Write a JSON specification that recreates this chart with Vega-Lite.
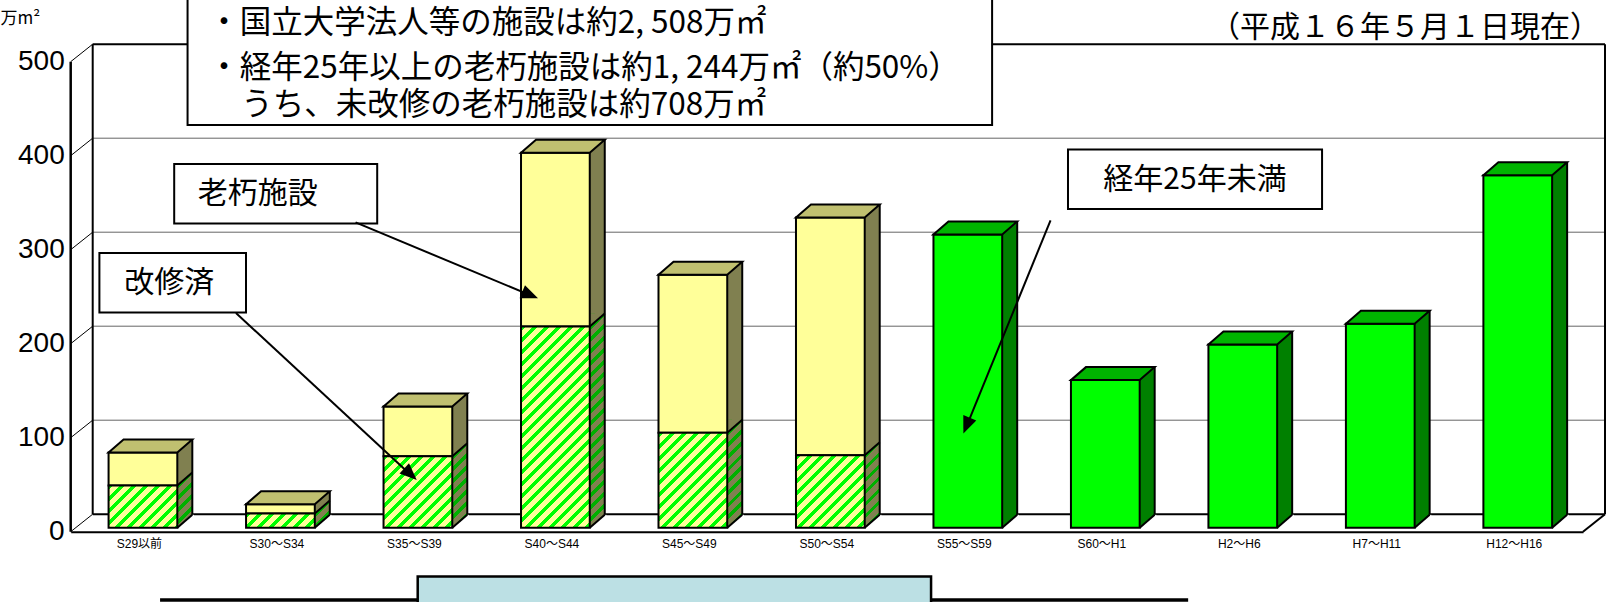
{
  "$schema": "https://vega.github.io/schema/vega-lite/v6.json",
  "width": 1512.3,
  "height": 470,
  "autosize": "none",
  "padding": {"left": 70.7, "top": 61.7, "right": 24, "bottom": 70.3},
  "background": "white",
  "config": {
    "view": {"stroke": null},
    "font": "Noto Sans CJK JP",
    "axisX": {"ticks": false, "grid": false, "domainColor": "black", "domainWidth": 2, "labelFont": "Liberation Sans, Noto Sans CJK JP", "labelFontSize": 12, "labelColor": "black", "labelPadding": 7, "labelAngle": 0, "title": null}
  },
  "datasets": {
    "bldg": [
      {"cat": "S29以前", "kind": "改修済", "value": 45},
      {"cat": "S29以前", "kind": "未改修", "value": 35},
      {"cat": "S30～S34", "kind": "改修済", "value": 15},
      {"cat": "S30～S34", "kind": "未改修", "value": 10},
      {"cat": "S35～S39", "kind": "改修済", "value": 76},
      {"cat": "S35～S39", "kind": "未改修", "value": 53},
      {"cat": "S40～S44", "kind": "改修済", "value": 214},
      {"cat": "S40～S44", "kind": "未改修", "value": 185},
      {"cat": "S45～S49", "kind": "改修済", "value": 101},
      {"cat": "S45～S49", "kind": "未改修", "value": 168},
      {"cat": "S50～S54", "kind": "改修済", "value": 77},
      {"cat": "S50～S54", "kind": "未改修", "value": 253},
      {"cat": "S55～S59", "kind": "経年25年未満", "value": 312},
      {"cat": "S60～H1", "kind": "経年25年未満", "value": 157},
      {"cat": "H2～H6", "kind": "経年25年未満", "value": 195},
      {"cat": "H7～H11", "kind": "経年25年未満", "value": 217},
      {"cat": "H12～H16", "kind": "経年25年未満", "value": 375}
    ],
    "ticks": [{"v": 0}, {"v": 100}, {"v": 200}, {"v": 300}, {"v": 400}, {"v": 500}],
    "one": [{}]
  },
  "resolve": {"scale": {"x": "independent"}},
  "layer": [
    {
      "data": {"name": "ticks"},
      "layer": [
        {
          "transform": [{"filter": "datum.v > 0 && datum.v < 500"}],
          "mark": {"type": "rule", "color": "#666666", "strokeWidth": 1, "xOffset": 22, "x2Offset": 22, "yOffset": -17.5},
          "encoding": {
            "x": {"datum": 0, "type": "quantitative", "scale": {"domain": [0, 11], "nice": false, "zero": false}, "axis": null},
            "x2": {"datum": 11},
            "y": {"field": "v", "type": "quantitative", "scale": {"domain": [0, 500], "nice": false, "zero": false}, "axis": null, "title": null}
          }
        },
        {
          "transform": [{"filter": "datum.v === 0 || datum.v === 500"}],
          "mark": {"type": "rule", "color": "black", "strokeWidth": 2, "xOffset": 22, "x2Offset": 22, "yOffset": -17.5},
          "encoding": {
            "x": {"datum": 0, "type": "quantitative", "axis": null},
            "x2": {"datum": 11},
            "y": {"field": "v", "type": "quantitative", "axis": null, "title": null}
          }
        },
        {
          "mark": {"type": "rule", "color": "black", "strokeWidth": 1, "x2Offset": 22, "y2Offset": -17.5},
          "encoding": {
            "x": {"datum": 0, "type": "quantitative", "axis": null},
            "x2": {"datum": 0},
            "y": {"field": "v", "type": "quantitative", "axis": null, "title": null},
            "y2": {"field": "v"}
          }
        },
        {
          "mark": {"type": "text", "align": "right", "baseline": "middle", "font": "Liberation Sans", "fontSize": 28, "color": "black", "xOffset": -6},
          "encoding": {
            "x": {"datum": 0, "type": "quantitative", "axis": null},
            "y": {"field": "v", "type": "quantitative", "axis": null, "title": null},
            "text": {"field": "v", "type": "quantitative"}
          }
        },
        {
          "data": {"name": "one"},
          "mark": {"type": "rule", "color": "black", "strokeWidth": 2.5},
          "encoding": {
            "x": {"datum": 0, "type": "quantitative", "axis": null},
            "y": {"datum": 0, "type": "quantitative", "axis": null},
            "y2": {"datum": 500}
          }
        },
        {
          "data": {"name": "one"},
          "mark": {"type": "rule", "color": "black", "strokeWidth": 2, "xOffset": 22, "yOffset": -17.5, "y2Offset": -17.5},
          "encoding": {
            "x": {"datum": 0, "type": "quantitative", "axis": null},
            "y": {"datum": 0, "type": "quantitative", "axis": null},
            "y2": {"datum": 500}
          }
        },
        {
          "data": {"name": "one"},
          "mark": {"type": "rule", "color": "black", "strokeWidth": 2, "xOffset": 22, "yOffset": -17.5, "y2Offset": -17.5},
          "encoding": {
            "x": {"datum": 11, "type": "quantitative", "axis": null},
            "y": {"datum": 0, "type": "quantitative", "axis": null},
            "y2": {"datum": 500}
          }
        },
        {
          "data": {"name": "one"},
          "mark": {"type": "rule", "color": "black", "strokeWidth": 2, "x2Offset": 22, "y2Offset": -17.5},
          "encoding": {
            "x": {"datum": 11, "type": "quantitative", "axis": null},
            "x2": {"datum": 11},
            "y": {"datum": 0, "type": "quantitative", "axis": null},
            "y2": {"datum": 0}
          }
        }
      ]
    },
    {
      "data": {"name": "bldg"},
      "transform": [{"stack": "value", "groupby": ["cat"], "sort": [{"field": "kind", "order": "ascending"}], "as": ["v0", "v1"]}],
      "layer": [
        {
          "transform": [{"filter": "datum.kind !== '改修済'"}],
          "mark": {"type": "bar", "width": 15, "xOffset": 45.37, "yOffset": -17, "y2Offset": -4, "strokeWidth": 0},
          "encoding": {
            "x": {"field": "cat", "type": "nominal", "sort": null, "title": null, "scale": {"domain": ["S29以前","S30～S34","S35～S39","S40～S44","S45～S49","S50～S54","S55～S59","S60～H1","H2～H6","H7～H11","H12～H16"], "paddingInner": 0.5, "paddingOuter": 0.25}},
            "y": {"field": "v1", "type": "quantitative", "stack": null, "title": null, "axis": null, "scale": {"domain": [0, 500], "nice": false, "zero": false}},
            "y2": {"field": "v0"},
            "fill": {"condition": {"test": "datum.kind === '未改修'", "value": "#808050"}, "value": "#008000"}
          }
        },
        {
          "transform": [{"filter": "datum.kind === '改修済'"}],
          "mark": {"type": "bar", "width": 15, "xOffset": 45.37, "yOffset": -17, "y2Offset": -4, "strokeWidth": 0},
          "encoding": {
            "x": {"field": "cat", "type": "nominal", "sort": null, "title": null},
            "y": {"field": "v1", "type": "quantitative", "stack": null, "title": null, "axis": null},
            "y2": {"field": "v0"},
            "fill": {
              "condition": [
                {"test": "datum.cat === 'S29以前'", "value": {"gradient": "linear", "x1": 0, "y1": 0, "x2": 1.3159, "y2": 4.851, "stops": [
                  {"offset":0,"color":"#00b000"},{"offset":0.0167,"color":"#00b000"},{"offset":0.0167,"color":"#808050"},{"offset":0.0417,"color":"#808050"},
                  {"offset":0.0417,"color":"#00b000"},{"offset":0.0583,"color":"#00b000"},{"offset":0.0583,"color":"#808050"},{"offset":0.0833,"color":"#808050"},
                  {"offset":0.0833,"color":"#00b000"},{"offset":0.1,"color":"#00b000"},{"offset":0.1,"color":"#808050"},{"offset":0.125,"color":"#808050"},
                  {"offset":0.125,"color":"#00b000"},{"offset":0.1417,"color":"#00b000"},{"offset":0.1417,"color":"#808050"},{"offset":0.1667,"color":"#808050"},
                  {"offset":0.1667,"color":"#00b000"},{"offset":0.1833,"color":"#00b000"},{"offset":0.1833,"color":"#808050"},{"offset":0.2083,"color":"#808050"},
                  {"offset":0.2083,"color":"#00b000"},{"offset":0.225,"color":"#00b000"},{"offset":0.225,"color":"#808050"},{"offset":0.25,"color":"#808050"}
                ]}},
                {"test": "datum.cat === 'S30～S34'", "value": {"gradient": "linear", "x1": 0, "y1": 0, "x2": 4.503, "y2": 8.135, "stops": [
                  {"offset":0,"color":"#00b000"},{"offset":0.0167,"color":"#00b000"},{"offset":0.0167,"color":"#808050"},{"offset":0.0417,"color":"#808050"},
                  {"offset":0.0417,"color":"#00b000"},{"offset":0.0583,"color":"#00b000"},{"offset":0.0583,"color":"#808050"},{"offset":0.0833,"color":"#808050"},
                  {"offset":0.0833,"color":"#00b000"},{"offset":0.1,"color":"#00b000"},{"offset":0.1,"color":"#808050"},{"offset":0.125,"color":"#808050"},
                  {"offset":0.125,"color":"#00b000"},{"offset":0.1417,"color":"#00b000"},{"offset":0.1417,"color":"#808050"},{"offset":0.1667,"color":"#808050"}
                ]}},
                {"test": "datum.cat === 'S35～S39'", "value": {"gradient": "linear", "x1": 0, "y1": 0, "x2": 0.5874, "y2": 3.3064, "stops": [
                  {"offset":0,"color":"#00b000"},{"offset":0.0167,"color":"#00b000"},{"offset":0.0167,"color":"#808050"},{"offset":0.0417,"color":"#808050"},
                  {"offset":0.0417,"color":"#00b000"},{"offset":0.0583,"color":"#00b000"},{"offset":0.0583,"color":"#808050"},{"offset":0.0833,"color":"#808050"},
                  {"offset":0.0833,"color":"#00b000"},{"offset":0.1,"color":"#00b000"},{"offset":0.1,"color":"#808050"},{"offset":0.125,"color":"#808050"},
                  {"offset":0.125,"color":"#00b000"},{"offset":0.1417,"color":"#00b000"},{"offset":0.1417,"color":"#808050"},{"offset":0.1667,"color":"#808050"},
                  {"offset":0.1667,"color":"#00b000"},{"offset":0.1833,"color":"#00b000"},{"offset":0.1833,"color":"#808050"},{"offset":0.2083,"color":"#808050"},
                  {"offset":0.2083,"color":"#00b000"},{"offset":0.225,"color":"#00b000"},{"offset":0.225,"color":"#808050"},{"offset":0.25,"color":"#808050"},
                  {"offset":0.25,"color":"#00b000"},{"offset":0.2667,"color":"#00b000"},{"offset":0.2667,"color":"#808050"},{"offset":0.2917,"color":"#808050"},
                  {"offset":0.2917,"color":"#00b000"},{"offset":0.3083,"color":"#00b000"},{"offset":0.3083,"color":"#808050"},{"offset":0.3333,"color":"#808050"},
                  {"offset":0.3333,"color":"#00b000"},{"offset":0.35,"color":"#00b000"},{"offset":0.35,"color":"#808050"},{"offset":0.375,"color":"#808050"}
                ]}},
                {"test": "datum.cat === 'S40～S44'", "value": {"gradient": "linear", "x1": 0, "y1": 0, "x2": 0.09373, "y2": 1.3382, "stops": [
                  {"offset":0,"color":"#00b000"},{"offset":0.0167,"color":"#00b000"},{"offset":0.0167,"color":"#808050"},{"offset":0.0417,"color":"#808050"},
                  {"offset":0.0417,"color":"#00b000"},{"offset":0.0583,"color":"#00b000"},{"offset":0.0583,"color":"#808050"},{"offset":0.0833,"color":"#808050"},
                  {"offset":0.0833,"color":"#00b000"},{"offset":0.1,"color":"#00b000"},{"offset":0.1,"color":"#808050"},{"offset":0.125,"color":"#808050"},
                  {"offset":0.125,"color":"#00b000"},{"offset":0.1417,"color":"#00b000"},{"offset":0.1417,"color":"#808050"},{"offset":0.1667,"color":"#808050"},
                  {"offset":0.1667,"color":"#00b000"},{"offset":0.1833,"color":"#00b000"},{"offset":0.1833,"color":"#808050"},{"offset":0.2083,"color":"#808050"},
                  {"offset":0.2083,"color":"#00b000"},{"offset":0.225,"color":"#00b000"},{"offset":0.225,"color":"#808050"},{"offset":0.25,"color":"#808050"},
                  {"offset":0.25,"color":"#00b000"},{"offset":0.2667,"color":"#00b000"},{"offset":0.2667,"color":"#808050"},{"offset":0.2917,"color":"#808050"},
                  {"offset":0.2917,"color":"#00b000"},{"offset":0.3083,"color":"#00b000"},{"offset":0.3083,"color":"#808050"},{"offset":0.3333,"color":"#808050"},
                  {"offset":0.3333,"color":"#00b000"},{"offset":0.35,"color":"#00b000"},{"offset":0.35,"color":"#808050"},{"offset":0.375,"color":"#808050"},
                  {"offset":0.375,"color":"#00b000"},{"offset":0.3917,"color":"#00b000"},{"offset":0.3917,"color":"#808050"},{"offset":0.4167,"color":"#808050"},
                  {"offset":0.4167,"color":"#00b000"},{"offset":0.4333,"color":"#00b000"},{"offset":0.4333,"color":"#808050"},{"offset":0.4583,"color":"#808050"},
                  {"offset":0.4583,"color":"#00b000"},{"offset":0.475,"color":"#00b000"},{"offset":0.475,"color":"#808050"},{"offset":0.5,"color":"#808050"},
                  {"offset":0.5,"color":"#00b000"},{"offset":0.5167,"color":"#00b000"},{"offset":0.5167,"color":"#808050"},{"offset":0.5417,"color":"#808050"},
                  {"offset":0.5417,"color":"#00b000"},{"offset":0.5583,"color":"#00b000"},{"offset":0.5583,"color":"#808050"},{"offset":0.5833,"color":"#808050"},
                  {"offset":0.5833,"color":"#00b000"},{"offset":0.6,"color":"#00b000"},{"offset":0.6,"color":"#808050"},{"offset":0.625,"color":"#808050"},
                  {"offset":0.625,"color":"#00b000"},{"offset":0.6417,"color":"#00b000"},{"offset":0.6417,"color":"#808050"},{"offset":0.6667,"color":"#808050"},
                  {"offset":0.6667,"color":"#00b000"},{"offset":0.6833,"color":"#00b000"},{"offset":0.6833,"color":"#808050"},{"offset":0.7083,"color":"#808050"},
                  {"offset":0.7083,"color":"#00b000"},{"offset":0.725,"color":"#00b000"},{"offset":0.725,"color":"#808050"},{"offset":0.75,"color":"#808050"},
                  {"offset":0.75,"color":"#00b000"},{"offset":0.7667,"color":"#00b000"},{"offset":0.7667,"color":"#808050"},{"offset":0.7917,"color":"#808050"},
                  {"offset":0.7917,"color":"#00b000"},{"offset":0.8083,"color":"#00b000"},{"offset":0.8083,"color":"#808050"},{"offset":0.8333,"color":"#808050"}
                ]}},
                {"test": "datum.cat === 'S45～S49'", "value": {"gradient": "linear", "x1": 0, "y1": 0, "x2": 0.36376, "y2": 2.6176, "stops": [
                  {"offset":0,"color":"#00b000"},{"offset":0.0167,"color":"#00b000"},{"offset":0.0167,"color":"#808050"},{"offset":0.0417,"color":"#808050"},
                  {"offset":0.0417,"color":"#00b000"},{"offset":0.0583,"color":"#00b000"},{"offset":0.0583,"color":"#808050"},{"offset":0.0833,"color":"#808050"},
                  {"offset":0.0833,"color":"#00b000"},{"offset":0.1,"color":"#00b000"},{"offset":0.1,"color":"#808050"},{"offset":0.125,"color":"#808050"},
                  {"offset":0.125,"color":"#00b000"},{"offset":0.1417,"color":"#00b000"},{"offset":0.1417,"color":"#808050"},{"offset":0.1667,"color":"#808050"},
                  {"offset":0.1667,"color":"#00b000"},{"offset":0.1833,"color":"#00b000"},{"offset":0.1833,"color":"#808050"},{"offset":0.2083,"color":"#808050"},
                  {"offset":0.2083,"color":"#00b000"},{"offset":0.225,"color":"#00b000"},{"offset":0.225,"color":"#808050"},{"offset":0.25,"color":"#808050"},
                  {"offset":0.25,"color":"#00b000"},{"offset":0.2667,"color":"#00b000"},{"offset":0.2667,"color":"#808050"},{"offset":0.2917,"color":"#808050"},
                  {"offset":0.2917,"color":"#00b000"},{"offset":0.3083,"color":"#00b000"},{"offset":0.3083,"color":"#808050"},{"offset":0.3333,"color":"#808050"},
                  {"offset":0.3333,"color":"#00b000"},{"offset":0.35,"color":"#00b000"},{"offset":0.35,"color":"#808050"},{"offset":0.375,"color":"#808050"},
                  {"offset":0.375,"color":"#00b000"},{"offset":0.3917,"color":"#00b000"},{"offset":0.3917,"color":"#808050"},{"offset":0.4167,"color":"#808050"},
                  {"offset":0.4167,"color":"#00b000"},{"offset":0.4333,"color":"#00b000"},{"offset":0.4333,"color":"#808050"},{"offset":0.4583,"color":"#808050"}
                ]}},
                {"test": "datum.cat === 'S50～S54'", "value": {"gradient": "linear", "x1": 0, "y1": 0, "x2": 0.57487, "y2": 3.2722, "stops": [
                  {"offset":0,"color":"#00b000"},{"offset":0.0167,"color":"#00b000"},{"offset":0.0167,"color":"#808050"},{"offset":0.0417,"color":"#808050"},
                  {"offset":0.0417,"color":"#00b000"},{"offset":0.0583,"color":"#00b000"},{"offset":0.0583,"color":"#808050"},{"offset":0.0833,"color":"#808050"},
                  {"offset":0.0833,"color":"#00b000"},{"offset":0.1,"color":"#00b000"},{"offset":0.1,"color":"#808050"},{"offset":0.125,"color":"#808050"},
                  {"offset":0.125,"color":"#00b000"},{"offset":0.1417,"color":"#00b000"},{"offset":0.1417,"color":"#808050"},{"offset":0.1667,"color":"#808050"},
                  {"offset":0.1667,"color":"#00b000"},{"offset":0.1833,"color":"#00b000"},{"offset":0.1833,"color":"#808050"},{"offset":0.2083,"color":"#808050"},
                  {"offset":0.2083,"color":"#00b000"},{"offset":0.225,"color":"#00b000"},{"offset":0.225,"color":"#808050"},{"offset":0.25,"color":"#808050"},
                  {"offset":0.25,"color":"#00b000"},{"offset":0.2667,"color":"#00b000"},{"offset":0.2667,"color":"#808050"},{"offset":0.2917,"color":"#808050"},
                  {"offset":0.2917,"color":"#00b000"},{"offset":0.3083,"color":"#00b000"},{"offset":0.3083,"color":"#808050"},{"offset":0.3333,"color":"#808050"},
                  {"offset":0.3333,"color":"#00b000"},{"offset":0.35,"color":"#00b000"},{"offset":0.35,"color":"#808050"},{"offset":0.375,"color":"#808050"}
                ]}}
              ],
              "value": "#808050"
            }
          }
        },
        {
          "transform": [{"filter": "datum.kind === '改修済'"}],
          "mark": {"type": "point", "shape": "M34.37,0.3 L34.37,-13.3 L49.8,-13.3 Z", "size": 4, "filled": true, "fill": "#808050", "strokeWidth": 0, "opacity": 1, "xOffset": 3.5, "yOffset": -4},
          "encoding": {
            "x": {"field": "cat", "type": "nominal", "sort": null, "title": null},
            "y": {"field": "v1", "type": "quantitative", "stack": null, "title": null, "axis": null}
          }
        },
        {
          "transform": [{"filter": "datum.v0 === 0"}],
          "mark": {"type": "point", "shape": "M34.37,0 L49.37,-13 L51,-13 L51,1.5 L34.37,1.5 Z", "size": 4, "filled": true, "fill": "white", "strokeWidth": 0, "opacity": 1, "xOffset": 3.5, "yOffset": -4},
          "encoding": {
            "x": {"field": "cat", "type": "nominal", "sort": null, "title": null},
            "y": {"field": "v0", "type": "quantitative", "stack": null, "title": null, "axis": null}
          }
        },
        {
          "transform": [{"filter": "datum.kind !== '改修済'"}],
          "mark": {"type": "bar", "xOffset": 3.5, "yOffset": -4, "y2Offset": -4, "stroke": "black", "strokeWidth": 2},
          "encoding": {
            "x": {"field": "cat", "type": "nominal", "sort": null, "title": null},
            "y": {"field": "v1", "type": "quantitative", "stack": null, "title": null, "axis": null},
            "y2": {"field": "v0"},
            "fill": {"condition": {"test": "datum.kind === '未改修'", "value": "#ffff99"}, "value": "#00ff00"}
          }
        },
        {
          "transform": [{"filter": "datum.kind === '改修済'"}],
          "mark": {"type": "bar", "xOffset": 3.5, "yOffset": -4, "y2Offset": -4, "stroke": "black", "strokeWidth": 2},
          "encoding": {
            "x": {"field": "cat", "type": "nominal", "sort": null, "title": null},
            "y": {"field": "v1", "type": "quantitative", "stack": null, "title": null, "axis": null},
            "y2": {"field": "v0"},
            "fill": {
              "condition": [
                {"test": "datum.cat === 'S29以前'", "value": {"gradient": "linear", "x1": 0, "y1": 0, "x2": 3.0387, "y2": 1.8697, "stops": [
                  {"offset":0,"color":"#0f0"},{"offset":0.0167,"color":"#0f0"},{"offset":0.0167,"color":"#ff9"},{"offset":0.0417,"color":"#ff9"},
                  {"offset":0.0417,"color":"#0f0"},{"offset":0.0583,"color":"#0f0"},{"offset":0.0583,"color":"#ff9"},{"offset":0.0833,"color":"#ff9"},
                  {"offset":0.0833,"color":"#0f0"},{"offset":0.1,"color":"#0f0"},{"offset":0.1,"color":"#ff9"},{"offset":0.125,"color":"#ff9"},
                  {"offset":0.125,"color":"#0f0"},{"offset":0.1417,"color":"#0f0"},{"offset":0.1417,"color":"#ff9"},{"offset":0.1667,"color":"#ff9"},
                  {"offset":0.1667,"color":"#0f0"},{"offset":0.1833,"color":"#0f0"},{"offset":0.1833,"color":"#ff9"},{"offset":0.2083,"color":"#ff9"},
                  {"offset":0.2083,"color":"#0f0"},{"offset":0.225,"color":"#0f0"},{"offset":0.225,"color":"#ff9"},{"offset":0.25,"color":"#ff9"},
                  {"offset":0.25,"color":"#0f0"},{"offset":0.2667,"color":"#0f0"},{"offset":0.2667,"color":"#ff9"},{"offset":0.2917,"color":"#ff9"},
                  {"offset":0.2917,"color":"#0f0"},{"offset":0.3083,"color":"#0f0"},{"offset":0.3083,"color":"#ff9"},{"offset":0.3333,"color":"#ff9"},
                  {"offset":0.3333,"color":"#0f0"},{"offset":0.35,"color":"#0f0"},{"offset":0.35,"color":"#ff9"},{"offset":0.375,"color":"#ff9"},
                  {"offset":0.375,"color":"#0f0"},{"offset":0.3917,"color":"#0f0"},{"offset":0.3917,"color":"#ff9"},{"offset":0.4167,"color":"#ff9"}
                ]}},
                {"test": "datum.cat === 'S30～S34'", "value": {"gradient": "linear", "x1": 0, "y1": 0, "x2": 4.02, "y2": 0.8245, "stops": [
                  {"offset":0,"color":"#0f0"},{"offset":0.0167,"color":"#0f0"},{"offset":0.0167,"color":"#ff9"},{"offset":0.0417,"color":"#ff9"},
                  {"offset":0.0417,"color":"#0f0"},{"offset":0.0583,"color":"#0f0"},{"offset":0.0583,"color":"#ff9"},{"offset":0.0833,"color":"#ff9"},
                  {"offset":0.0833,"color":"#0f0"},{"offset":0.1,"color":"#0f0"},{"offset":0.1,"color":"#ff9"},{"offset":0.125,"color":"#ff9"},
                  {"offset":0.125,"color":"#0f0"},{"offset":0.1417,"color":"#0f0"},{"offset":0.1417,"color":"#ff9"},{"offset":0.1667,"color":"#ff9"},
                  {"offset":0.1667,"color":"#0f0"},{"offset":0.1833,"color":"#0f0"},{"offset":0.1833,"color":"#ff9"},{"offset":0.2083,"color":"#ff9"},
                  {"offset":0.2083,"color":"#0f0"},{"offset":0.225,"color":"#0f0"},{"offset":0.225,"color":"#ff9"},{"offset":0.25,"color":"#ff9"},
                  {"offset":0.25,"color":"#0f0"},{"offset":0.2667,"color":"#0f0"},{"offset":0.2667,"color":"#ff9"},{"offset":0.2917,"color":"#ff9"}
                ]}},
                {"test": "datum.cat === 'S35～S39'", "value": {"gradient": "linear", "x1": 0, "y1": 0, "x2": 2.0142, "y2": 2.093, "stops": [
                  {"offset":0,"color":"#0f0"},{"offset":0.0167,"color":"#0f0"},{"offset":0.0167,"color":"#ff9"},{"offset":0.0417,"color":"#ff9"},
                  {"offset":0.0417,"color":"#0f0"},{"offset":0.0583,"color":"#0f0"},{"offset":0.0583,"color":"#ff9"},{"offset":0.0833,"color":"#ff9"},
                  {"offset":0.0833,"color":"#0f0"},{"offset":0.1,"color":"#0f0"},{"offset":0.1,"color":"#ff9"},{"offset":0.125,"color":"#ff9"},
                  {"offset":0.125,"color":"#0f0"},{"offset":0.1417,"color":"#0f0"},{"offset":0.1417,"color":"#ff9"},{"offset":0.1667,"color":"#ff9"},
                  {"offset":0.1667,"color":"#0f0"},{"offset":0.1833,"color":"#0f0"},{"offset":0.1833,"color":"#ff9"},{"offset":0.2083,"color":"#ff9"},
                  {"offset":0.2083,"color":"#0f0"},{"offset":0.225,"color":"#0f0"},{"offset":0.225,"color":"#ff9"},{"offset":0.25,"color":"#ff9"},
                  {"offset":0.25,"color":"#0f0"},{"offset":0.2667,"color":"#0f0"},{"offset":0.2667,"color":"#ff9"},{"offset":0.2917,"color":"#ff9"},
                  {"offset":0.2917,"color":"#0f0"},{"offset":0.3083,"color":"#0f0"},{"offset":0.3083,"color":"#ff9"},{"offset":0.3333,"color":"#ff9"},
                  {"offset":0.3333,"color":"#0f0"},{"offset":0.35,"color":"#0f0"},{"offset":0.35,"color":"#ff9"},{"offset":0.375,"color":"#ff9"},
                  {"offset":0.375,"color":"#0f0"},{"offset":0.3917,"color":"#0f0"},{"offset":0.3917,"color":"#ff9"},{"offset":0.4167,"color":"#ff9"},
                  {"offset":0.4167,"color":"#0f0"},{"offset":0.4333,"color":"#0f0"},{"offset":0.4333,"color":"#ff9"},{"offset":0.4583,"color":"#ff9"},
                  {"offset":0.4583,"color":"#0f0"},{"offset":0.475,"color":"#0f0"},{"offset":0.475,"color":"#ff9"},{"offset":0.5,"color":"#ff9"}
                ]}},
                {"test": "datum.cat === 'S40～S44'", "value": {"gradient": "linear", "x1": 0, "y1": 0, "x2": 0.43813, "y2": 1.282, "stops": [
                  {"offset":0,"color":"#0f0"},{"offset":0.0167,"color":"#0f0"},{"offset":0.0167,"color":"#ff9"},{"offset":0.0417,"color":"#ff9"},
                  {"offset":0.0417,"color":"#0f0"},{"offset":0.0583,"color":"#0f0"},{"offset":0.0583,"color":"#ff9"},{"offset":0.0833,"color":"#ff9"},
                  {"offset":0.0833,"color":"#0f0"},{"offset":0.1,"color":"#0f0"},{"offset":0.1,"color":"#ff9"},{"offset":0.125,"color":"#ff9"},
                  {"offset":0.125,"color":"#0f0"},{"offset":0.1417,"color":"#0f0"},{"offset":0.1417,"color":"#ff9"},{"offset":0.1667,"color":"#ff9"},
                  {"offset":0.1667,"color":"#0f0"},{"offset":0.1833,"color":"#0f0"},{"offset":0.1833,"color":"#ff9"},{"offset":0.2083,"color":"#ff9"},
                  {"offset":0.2083,"color":"#0f0"},{"offset":0.225,"color":"#0f0"},{"offset":0.225,"color":"#ff9"},{"offset":0.25,"color":"#ff9"},
                  {"offset":0.25,"color":"#0f0"},{"offset":0.2667,"color":"#0f0"},{"offset":0.2667,"color":"#ff9"},{"offset":0.2917,"color":"#ff9"},
                  {"offset":0.2917,"color":"#0f0"},{"offset":0.3083,"color":"#0f0"},{"offset":0.3083,"color":"#ff9"},{"offset":0.3333,"color":"#ff9"},
                  {"offset":0.3333,"color":"#0f0"},{"offset":0.35,"color":"#0f0"},{"offset":0.35,"color":"#ff9"},{"offset":0.375,"color":"#ff9"},
                  {"offset":0.375,"color":"#0f0"},{"offset":0.3917,"color":"#0f0"},{"offset":0.3917,"color":"#ff9"},{"offset":0.4167,"color":"#ff9"},
                  {"offset":0.4167,"color":"#0f0"},{"offset":0.4333,"color":"#0f0"},{"offset":0.4333,"color":"#ff9"},{"offset":0.4583,"color":"#ff9"},
                  {"offset":0.4583,"color":"#0f0"},{"offset":0.475,"color":"#0f0"},{"offset":0.475,"color":"#ff9"},{"offset":0.5,"color":"#ff9"},
                  {"offset":0.5,"color":"#0f0"},{"offset":0.5167,"color":"#0f0"},{"offset":0.5167,"color":"#ff9"},{"offset":0.5417,"color":"#ff9"},
                  {"offset":0.5417,"color":"#0f0"},{"offset":0.5583,"color":"#0f0"},{"offset":0.5583,"color":"#ff9"},{"offset":0.5833,"color":"#ff9"},
                  {"offset":0.5833,"color":"#0f0"},{"offset":0.6,"color":"#0f0"},{"offset":0.6,"color":"#ff9"},{"offset":0.625,"color":"#ff9"},
                  {"offset":0.625,"color":"#0f0"},{"offset":0.6417,"color":"#0f0"},{"offset":0.6417,"color":"#ff9"},{"offset":0.6667,"color":"#ff9"},
                  {"offset":0.6667,"color":"#0f0"},{"offset":0.6833,"color":"#0f0"},{"offset":0.6833,"color":"#ff9"},{"offset":0.7083,"color":"#ff9"},
                  {"offset":0.7083,"color":"#0f0"},{"offset":0.725,"color":"#0f0"},{"offset":0.725,"color":"#ff9"},{"offset":0.75,"color":"#ff9"},
                  {"offset":0.75,"color":"#0f0"},{"offset":0.7667,"color":"#0f0"},{"offset":0.7667,"color":"#ff9"},{"offset":0.7917,"color":"#ff9"},
                  {"offset":0.7917,"color":"#0f0"},{"offset":0.8083,"color":"#0f0"},{"offset":0.8083,"color":"#ff9"},{"offset":0.8333,"color":"#ff9"},
                  {"offset":0.8333,"color":"#0f0"},{"offset":0.85,"color":"#0f0"},{"offset":0.85,"color":"#ff9"},{"offset":0.875,"color":"#ff9"},
                  {"offset":0.875,"color":"#0f0"},{"offset":0.8917,"color":"#0f0"},{"offset":0.8917,"color":"#ff9"},{"offset":0.9167,"color":"#ff9"},
                  {"offset":0.9167,"color":"#0f0"},{"offset":0.9333,"color":"#0f0"},{"offset":0.9333,"color":"#ff9"},{"offset":0.9583,"color":"#ff9"}
                ]}},
                {"test": "datum.cat === 'S45～S49'", "value": {"gradient": "linear", "x1": 0, "y1": 0, "x2": 1.441, "y2": 1.99, "stops": [
                  {"offset":0,"color":"#0f0"},{"offset":0.0167,"color":"#0f0"},{"offset":0.0167,"color":"#ff9"},{"offset":0.0417,"color":"#ff9"},
                  {"offset":0.0417,"color":"#0f0"},{"offset":0.0583,"color":"#0f0"},{"offset":0.0583,"color":"#ff9"},{"offset":0.0833,"color":"#ff9"},
                  {"offset":0.0833,"color":"#0f0"},{"offset":0.1,"color":"#0f0"},{"offset":0.1,"color":"#ff9"},{"offset":0.125,"color":"#ff9"},
                  {"offset":0.125,"color":"#0f0"},{"offset":0.1417,"color":"#0f0"},{"offset":0.1417,"color":"#ff9"},{"offset":0.1667,"color":"#ff9"},
                  {"offset":0.1667,"color":"#0f0"},{"offset":0.1833,"color":"#0f0"},{"offset":0.1833,"color":"#ff9"},{"offset":0.2083,"color":"#ff9"},
                  {"offset":0.2083,"color":"#0f0"},{"offset":0.225,"color":"#0f0"},{"offset":0.225,"color":"#ff9"},{"offset":0.25,"color":"#ff9"},
                  {"offset":0.25,"color":"#0f0"},{"offset":0.2667,"color":"#0f0"},{"offset":0.2667,"color":"#ff9"},{"offset":0.2917,"color":"#ff9"},
                  {"offset":0.2917,"color":"#0f0"},{"offset":0.3083,"color":"#0f0"},{"offset":0.3083,"color":"#ff9"},{"offset":0.3333,"color":"#ff9"},
                  {"offset":0.3333,"color":"#0f0"},{"offset":0.35,"color":"#0f0"},{"offset":0.35,"color":"#ff9"},{"offset":0.375,"color":"#ff9"},
                  {"offset":0.375,"color":"#0f0"},{"offset":0.3917,"color":"#0f0"},{"offset":0.3917,"color":"#ff9"},{"offset":0.4167,"color":"#ff9"},
                  {"offset":0.4167,"color":"#0f0"},{"offset":0.4333,"color":"#0f0"},{"offset":0.4333,"color":"#ff9"},{"offset":0.4583,"color":"#ff9"},
                  {"offset":0.4583,"color":"#0f0"},{"offset":0.475,"color":"#0f0"},{"offset":0.475,"color":"#ff9"},{"offset":0.5,"color":"#ff9"},
                  {"offset":0.5,"color":"#0f0"},{"offset":0.5167,"color":"#0f0"},{"offset":0.5167,"color":"#ff9"},{"offset":0.5417,"color":"#ff9"},
                  {"offset":0.5417,"color":"#0f0"},{"offset":0.5583,"color":"#0f0"},{"offset":0.5583,"color":"#ff9"},{"offset":0.5833,"color":"#ff9"}
                ]}},
                {"test": "datum.cat === 'S50～S54'", "value": {"gradient": "linear", "x1": 0, "y1": 0, "x2": 1.9869, "y2": 2.0918, "stops": [
                  {"offset":0,"color":"#0f0"},{"offset":0.0167,"color":"#0f0"},{"offset":0.0167,"color":"#ff9"},{"offset":0.0417,"color":"#ff9"},
                  {"offset":0.0417,"color":"#0f0"},{"offset":0.0583,"color":"#0f0"},{"offset":0.0583,"color":"#ff9"},{"offset":0.0833,"color":"#ff9"},
                  {"offset":0.0833,"color":"#0f0"},{"offset":0.1,"color":"#0f0"},{"offset":0.1,"color":"#ff9"},{"offset":0.125,"color":"#ff9"},
                  {"offset":0.125,"color":"#0f0"},{"offset":0.1417,"color":"#0f0"},{"offset":0.1417,"color":"#ff9"},{"offset":0.1667,"color":"#ff9"},
                  {"offset":0.1667,"color":"#0f0"},{"offset":0.1833,"color":"#0f0"},{"offset":0.1833,"color":"#ff9"},{"offset":0.2083,"color":"#ff9"},
                  {"offset":0.2083,"color":"#0f0"},{"offset":0.225,"color":"#0f0"},{"offset":0.225,"color":"#ff9"},{"offset":0.25,"color":"#ff9"},
                  {"offset":0.25,"color":"#0f0"},{"offset":0.2667,"color":"#0f0"},{"offset":0.2667,"color":"#ff9"},{"offset":0.2917,"color":"#ff9"},
                  {"offset":0.2917,"color":"#0f0"},{"offset":0.3083,"color":"#0f0"},{"offset":0.3083,"color":"#ff9"},{"offset":0.3333,"color":"#ff9"},
                  {"offset":0.3333,"color":"#0f0"},{"offset":0.35,"color":"#0f0"},{"offset":0.35,"color":"#ff9"},{"offset":0.375,"color":"#ff9"},
                  {"offset":0.375,"color":"#0f0"},{"offset":0.3917,"color":"#0f0"},{"offset":0.3917,"color":"#ff9"},{"offset":0.4167,"color":"#ff9"},
                  {"offset":0.4167,"color":"#0f0"},{"offset":0.4333,"color":"#0f0"},{"offset":0.4333,"color":"#ff9"},{"offset":0.4583,"color":"#ff9"},
                  {"offset":0.4583,"color":"#0f0"},{"offset":0.475,"color":"#0f0"},{"offset":0.475,"color":"#ff9"},{"offset":0.5,"color":"#ff9"}
                ]}}
              ],
              "value": "#ffff99"
            }
          }
        },
        {
          "transform": [{"filter": "datum.kind !== '改修済'"}],
          "mark": {"type": "point", "shape": "M-34.37,0 L34.37,0 L49.37,-13 L-19.37,-13 Z", "size": 4, "filled": true, "stroke": "black", "strokeWidth": 2, "opacity": 1, "xOffset": 3.5, "yOffset": -4},
          "encoding": {
            "x": {"field": "cat", "type": "nominal", "sort": null, "title": null},
            "y": {"field": "v1", "type": "quantitative", "stack": null, "title": null, "axis": null},
            "fill": {"condition": {"test": "datum.kind === '未改修'", "value": "#c0c070"}, "value": "#00b400"}
          }
        },
        {
          "transform": [{"filter": "datum.kind !== '改修済'"}],
          "mark": {"type": "rule", "color": "black", "strokeWidth": 2, "xOffset": 52.87, "yOffset": -17, "y2Offset": -17},
          "encoding": {
            "x": {"field": "cat", "type": "nominal", "sort": null, "title": null},
            "y": {"field": "v1", "type": "quantitative", "stack": null, "title": null, "axis": null},
            "y2": {"datum": 0}
          }
        },
        {
          "mark": {"type": "point", "shape": "M34.37,0 L49.37,-13", "size": 4, "filled": false, "stroke": "black", "strokeWidth": 2, "opacity": 1, "xOffset": 3.5, "yOffset": -4},
          "encoding": {
            "x": {"field": "cat", "type": "nominal", "sort": null, "title": null},
            "y": {"field": "v0", "type": "quantitative", "stack": null, "title": null, "axis": null}
          }
        }
      ]
    },
    {
      "data": {"name": "one"},
      "layer": [
        {
          "mark": {"type": "text", "align": "left", "baseline": "middle", "fontSize": 17, "font": "Noto Sans CJK JP", "color": "black"},
          "encoding": {
            "x": {"datum": -0.51, "type": "quantitative", "scale": {"domain": [0, 11], "nice": false, "zero": false}, "axis": null},
            "y": {"datum": 545.4, "type": "quantitative", "axis": null},
            "text": {"value": "万m²"}
          }
        },
        {
          "mark": {"type": "rect", "fill": "white", "stroke": "black", "strokeWidth": 2},
          "encoding": {
            "x": {"datum": 0.85, "type": "quantitative", "axis": null},
            "x2": {"datum": 6.702},
            "y": {"datum": 432.7, "type": "quantitative", "axis": null},
            "y2": {"datum": 575}
          }
        },
        {
          "mark": {"type": "text", "align": "left", "baseline": "middle", "fontSize": 31.5, "font": "Noto Sans CJK JP", "color": "black"},
          "encoding": {
            "x": {"datum": 1.0, "type": "quantitative", "axis": null},
            "y": {"datum": 540, "type": "quantitative", "axis": null},
            "text": {"value": "・国立大学法人等の施設は約2, 508万㎡"}
          }
        },
        {
          "mark": {"type": "text", "align": "left", "baseline": "middle", "fontSize": 31.5, "font": "Noto Sans CJK JP", "color": "black"},
          "encoding": {
            "x": {"datum": 1.0, "type": "quantitative", "axis": null},
            "y": {"datum": 492.6, "type": "quantitative", "axis": null},
            "text": {"value": "・経年25年以上の老朽施設は約1, 244万㎡（約50%）"}
          }
        },
        {
          "mark": {"type": "text", "align": "left", "baseline": "middle", "fontSize": 31.5, "font": "Noto Sans CJK JP", "color": "black"},
          "encoding": {
            "x": {"datum": 1.24, "type": "quantitative", "axis": null},
            "y": {"datum": 453.3, "type": "quantitative", "axis": null},
            "text": {"value": "うち、未改修の老朽施設は約708万㎡"}
          }
        },
        {
          "mark": {"type": "text", "align": "right", "baseline": "middle", "fontSize": 30, "font": "Noto Sans CJK JP", "color": "black"},
          "encoding": {
            "x": {"datum": 11.124, "type": "quantitative", "axis": null},
            "y": {"datum": 536.2, "type": "quantitative", "axis": null},
            "text": {"value": "（平成１６年５月１日現在）"}
          }
        },
        {
          "mark": {"type": "rect", "fill": "white", "stroke": "black", "strokeWidth": 2},
          "encoding": {
            "x": {"datum": 0.7528, "type": "quantitative", "axis": null},
            "x2": {"datum": 2.2294},
            "y": {"datum": 328.0, "type": "quantitative", "axis": null},
            "y2": {"datum": 391.2}
          }
        },
        {
          "mark": {"type": "text", "align": "center", "baseline": "middle", "fontSize": 30, "font": "Noto Sans CJK JP", "color": "black"},
          "encoding": {
            "x": {"datum": 1.36, "type": "quantitative", "axis": null},
            "y": {"datum": 359.2, "type": "quantitative", "axis": null},
            "text": {"value": "老朽施設"}
          }
        },
        {
          "mark": {"type": "rect", "fill": "white", "stroke": "black", "strokeWidth": 2},
          "encoding": {
            "x": {"datum": 0.2088, "type": "quantitative", "axis": null},
            "x2": {"datum": 1.2751},
            "y": {"datum": 233.1, "type": "quantitative", "axis": null},
            "y2": {"datum": 296.5}
          }
        },
        {
          "mark": {"type": "text", "align": "center", "baseline": "middle", "fontSize": 30, "font": "Noto Sans CJK JP", "color": "black"},
          "encoding": {
            "x": {"datum": 0.716, "type": "quantitative", "axis": null},
            "y": {"datum": 264.6, "type": "quantitative", "axis": null},
            "text": {"value": "改修済"}
          }
        },
        {
          "mark": {"type": "rect", "fill": "white", "stroke": "black", "strokeWidth": 2},
          "encoding": {
            "x": {"datum": 7.254, "type": "quantitative", "axis": null},
            "x2": {"datum": 9.102},
            "y": {"datum": 343.3, "type": "quantitative", "axis": null},
            "y2": {"datum": 406.5}
          }
        },
        {
          "mark": {"type": "text", "align": "center", "baseline": "middle", "fontSize": 30, "font": "Noto Sans CJK JP", "color": "black"},
          "encoding": {
            "x": {"datum": 8.178, "type": "quantitative", "axis": null},
            "y": {"datum": 373.7, "type": "quantitative", "axis": null},
            "text": {"value": "経年25年未満"}
          }
        },
        {
          "mark": {"type": "rule", "color": "black", "strokeWidth": 2},
          "encoding": {
            "x": {"datum": 2.072, "type": "quantitative", "axis": null},
            "x2": {"datum": 3.35},
            "y": {"datum": 329.0, "type": "quantitative", "axis": null},
            "y2": {"datum": 251.2}
          }
        },
        {
          "mark": {"type": "point", "shape": "M0,0 L-7,17 L7,17 Z", "size": 4, "filled": true, "fill": "black", "strokeWidth": 0, "opacity": 1, "angle": 112.6},
          "encoding": {
            "x": {"datum": 3.399, "type": "quantitative", "axis": null},
            "y": {"datum": 248.3, "type": "quantitative", "axis": null}
          }
        },
        {
          "mark": {"type": "rule", "color": "black", "strokeWidth": 2},
          "encoding": {
            "x": {"datum": 1.202, "type": "quantitative", "axis": null},
            "x2": {"datum": 2.48},
            "y": {"datum": 232.7, "type": "quantitative", "axis": null},
            "y2": {"datum": 59.5}
          }
        },
        {
          "mark": {"type": "point", "shape": "M0,0 L-7,17 L7,17 Z", "size": 4, "filled": true, "fill": "black", "strokeWidth": 0, "opacity": 1, "angle": 132.8},
          "encoding": {
            "x": {"datum": 2.517, "type": "quantitative", "axis": null},
            "y": {"datum": 55.0, "type": "quantitative", "axis": null}
          }
        },
        {
          "mark": {"type": "rule", "color": "black", "strokeWidth": 2},
          "encoding": {
            "x": {"datum": 7.127, "type": "quantitative", "axis": null},
            "x2": {"datum": 6.51},
            "y": {"datum": 331.2, "type": "quantitative", "axis": null},
            "y2": {"datum": 110}
          }
        },
        {
          "mark": {"type": "point", "shape": "M0,0 L-7,17 L7,17 Z", "size": 4, "filled": true, "fill": "black", "strokeWidth": 0, "opacity": 1, "angle": 202.2},
          "encoding": {
            "x": {"datum": 6.493, "type": "quantitative", "axis": null},
            "y": {"datum": 104.5, "type": "quantitative", "axis": null}
          }
        },
        {
          "mark": {"type": "rect", "fill": "#bce0e4", "stroke": "black", "strokeWidth": 2.5},
          "encoding": {
            "x": {"datum": 2.524, "type": "quantitative", "axis": null},
            "x2": {"datum": 6.258},
            "y": {"datum": -47.7, "type": "quantitative", "axis": null},
            "y2": {"datum": -95}
          }
        },
        {
          "mark": {"type": "rule", "color": "black", "strokeWidth": 3.5},
          "encoding": {
            "x": {"datum": 0.65, "type": "quantitative", "axis": null},
            "x2": {"datum": 2.524},
            "y": {"datum": -72.7, "type": "quantitative", "axis": null}
          }
        },
        {
          "mark": {"type": "rule", "color": "black", "strokeWidth": 3.5},
          "encoding": {
            "x": {"datum": 6.258, "type": "quantitative", "axis": null},
            "x2": {"datum": 8.128},
            "y": {"datum": -72.7, "type": "quantitative", "axis": null}
          }
        }
      ]
    }
  ]
}
